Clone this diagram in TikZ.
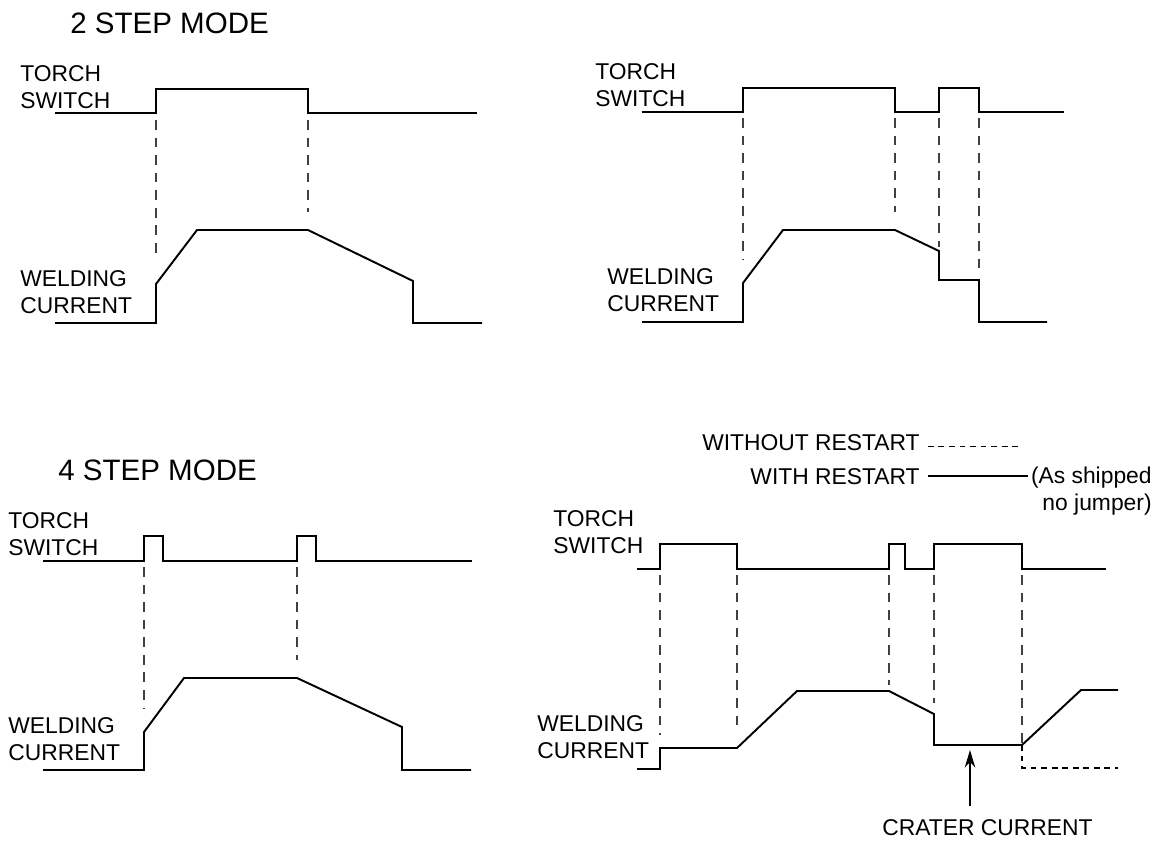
\documentclass[tikz,border=0pt]{standalone}
\usepackage{fontspec}
\setmainfont{Liberation Sans}
\usetikzlibrary{arrows.meta}

\begin{document}
\begin{tikzpicture}[
        x=0.02cm, y=-0.02cm,
        mode title/.style={anchor=base west, inner sep=0pt, font=\fontsize{16.8}{20}\selectfont},
        signal label/.style={anchor=north west, align=left, inner sep=0pt, font=\fontsize{13}{15.3}\selectfont},
        legend label/.style={anchor=base east, inner sep=0pt, font=\fontsize{13}{15.3}\selectfont},
        solid edge/.style={draw, line width=1.1pt},
        dashed edge/.style={draw, line width=0.7pt, black!75, dash pattern=on 5.5pt off 4.5pt},
        restart edge/.style={draw, line width=1pt, dash pattern=on 3.3pt off 2.7pt},
        pointer/.style={draw, line width=1pt, -{Stealth[length=10pt, width=6pt]}}
    ]
	\useasboundingbox (0,0) rectangle (1157,840);

	\node[mode title] (title_2) at (70,33) {2 STEP MODE};
	\node[mode title] (title_4) at (58,480) {4 STEP MODE};

	\node[signal label] (switch_1) at (20,65) {TORCH\\SWITCH};
	\node[signal label] (current_1) at (20,270) {WELDING\\CURRENT};
	\node[signal label] (switch_2) at (595,63) {TORCH\\SWITCH};
	\node[signal label] (current_2) at (607,268) {WELDING\\CURRENT};
	\node[signal label] (switch_3) at (8,512) {TORCH\\SWITCH};
	\node[signal label] (current_3) at (8,717) {WELDING\\CURRENT};
	\node[signal label] (switch_4) at (553,510) {TORCH\\SWITCH};
	\node[signal label] (current_4) at (537,715) {WELDING\\CURRENT};

	\draw[solid edge] (55,113) -- (156,113) -- (156,89) -- (308,89) -- (308,113) -- (477,113);
	\draw[dashed edge] (156,120) -- (156,260);
	\draw[dashed edge] (308,120) -- (308,212);
	\draw[solid edge] (55,323) -- (156,323) -- (156,284) -- (197,230) -- (308,230) -- (413,281) -- (413,323) -- (482,323);

	\draw[solid edge] (642,112) -- (743,112) -- (743,88) -- (895,88) -- (895,112) -- (939,112) -- (939,88) -- (979,88) -- (979,112) -- (1064,112);
	\draw[dashed edge] (743,118) -- (743,260);
	\draw[dashed edge] (895,118) -- (895,212);
	\draw[dashed edge] (939,118) -- (939,247);
	\draw[dashed edge] (979,118) -- (979,275);
	\draw[solid edge] (642,322) -- (743,322) -- (743,283) -- (783,230) -- (895,230) -- (939,251) -- (939,280) -- (979,280) -- (979,322) -- (1047,322);

	\draw[solid edge] (43,561) -- (144,561) -- (144,536) -- (163,536) -- (163,561) -- (297,561) -- (297,536) -- (316,536) -- (316,561) -- (472,561);
	\draw[dashed edge] (144,567) -- (144,708);
	\draw[dashed edge] (297,567) -- (297,660);
	\draw[solid edge] (43,770) -- (144,770) -- (144,732) -- (184,678) -- (297,678) -- (402,727) -- (402,770) -- (471,770);

	\draw[solid edge] (637,569) -- (660,569) -- (660,544) -- (737,544) -- (737,569) -- (889,569) -- (889,544) -- (905,544) -- (905,569) -- (934,569) -- (934,544) -- (1022,544) -- (1022,569) -- (1106,569);
	\draw[dashed edge] (660,575) -- (660,735);
	\draw[dashed edge] (737,575) -- (737,732);
	\draw[dashed edge] (889,575) -- (889,685);
	\draw[dashed edge] (934,575) -- (934,703);
	\draw[dashed edge] (1022,575) -- (1022,743);
	\draw[solid edge] (637,769) -- (660,769) -- (660,748) -- (737,748) -- (797,691) -- (889,691) -- (934,714) -- (934,745) -- (1022,745) -- (1081,690) -- (1118,690);
	\draw[restart edge] (1022,745) -- (1022,768) -- (1118,768);

	\node[legend label] (without) at (920,450) {WITHOUT RESTART};
	\node[legend label] (with) at (920,484) {WITH RESTART};
	\node[signal label, anchor=north east, align=right] (shipped) at (1152,467) {(As shipped\\no jumper)};
	\draw[restart edge] ([xshift=4.5pt, yshift=-2.5pt]without.east) -- ++(94,0);
	\draw[solid edge, line width=1pt] ([xshift=4.5pt]with.east) -- ([xshift=-1.5pt]with.east -| shipped.west);

	\node[mode title, font=\fontsize{13}{15.3}\selectfont] (crater) at (882,835) {CRATER CURRENT};
	\coordinate (crater_tail) at (970,806);
	\coordinate (crater_tip) at (970,750);
	\draw[pointer] (crater_tail) -- (crater_tip);
\end{tikzpicture}
\end{document}
